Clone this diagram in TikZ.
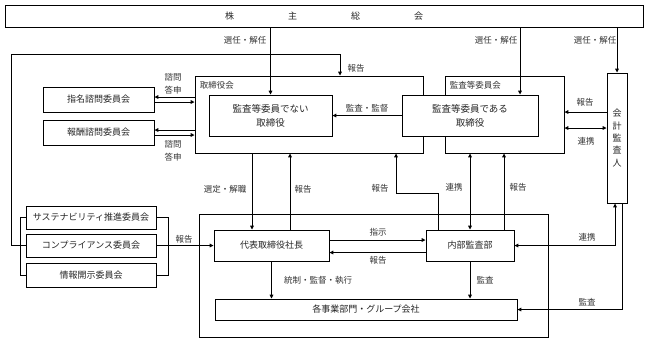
\documentclass[tikz,border=0pt]{standalone}
\usepackage{fontspec}
\setmainfont{Noto Sans CJK JP}
\usetikzlibrary{arrows.meta}
\tikzset{
  part/.style={draw=black, line width=0.8pt, fill=white, inner sep=0pt,
    align=center, font=\fontsize{9}{14}\selectfont, text=black!85},
  bigpart/.style={part, font=\fontsize{9.5}{14}\selectfont},
  frame/.style={draw=black, line width=0.8pt, inner sep=0pt},
  flabel/.style={font=\fontsize{8.5}{13}\selectfont, inner sep=1pt,
    align=center, text=black!80},
  wire/.style={line width=1pt, draw=black},
  flow/.style={wire, -{Triangle[length=4pt,width=3.6pt]}},
  twoflow/.style={wire, {Triangle[length=4pt,width=3.6pt]}-{Triangle[length=4pt,width=3.6pt]}},
}

\begin{document}
\begin{tikzpicture}[x=1pt,y=-1pt]
\useasboundingbox (0,0) rectangle (648,341);
% shareholders
\node[part, minimum width=638, minimum height=22] (agm) at (324,16)
  {株\hspace{54pt}主\hspace{54pt}総\hspace{54pt}会};
% board and audit committee
\node[frame, minimum width=228, minimum height=77] (board) at (309,114.5) {};
\node[flabel, anchor=north west] (boardttl) at ([xshift=4pt,yshift=-5pt]board.north west) {取締役会};
\node[frame, minimum width=119, minimum height=77] (acb) at (504.5,114.5) {};
\node[flabel, anchor=north west] (acbttl) at ([xshift=4pt,yshift=-5pt]acb.north west) {監査等委員会};
\node[bigpart, minimum width=123, minimum height=41] (nonaud) at (270.5,115.5) {監査等委員でない\\取締役};
\node[bigpart, minimum width=136, minimum height=41] (aud) at (470,115.5) {監査等委員である\\取締役};
\node[part, minimum width=20, minimum height=130, font=\fontsize{9}{12.3}\selectfont] (acct) at (617,138)
  {会\\計\\監\\査\\人};
% advisory committees
\node[part, minimum width=111, minimum height=25] (nom) at (98.5,99.5) {指名諮問委員会};
\node[part, minimum width=111, minimum height=25] (rem) at (98.5,132.5) {報酬諮問委員会};
% execution side
\node[frame, minimum width=349, minimum height=123] (ops) at (373.5,275.5) {};
\node[part, minimum width=115, minimum height=31] (ceo) at (271.5,245.5) {代表取締役社長};
\node[part, minimum width=88, minimum height=31] (ia) at (470,245.5) {内部監査部};
\node[part, minimum width=302, minimum height=21] (div) at (366,309.5) {各事業部門・グループ会社};
\node[part, minimum width=130, minimum height=23] (sus) at (91,217.5) {サステナビリティ推進委員会};
\node[part, minimum width=130, minimum height=23] (comp) at (91,245.5) {コンプライアンス委員会};
\node[part, minimum width=130, minimum height=24] (disc) at (91,275) {情報開示委員会};
% points on the edges
\coordinate (audin) at ([xshift=50pt]aud.north);
\coordinate (brdin) at ([xshift=31pt]board.north);
\coordinate (brdtop) at ([yshift=21pt]brdin);
\coordinate (nomq) at ([yshift=2.5pt]nom.east);
\coordinate (noma) at ([yshift=-2.5pt]nom.east);
\coordinate (remq) at ([yshift=2.5pt]rem.east);
\coordinate (rema) at ([yshift=-2.5pt]rem.east);
\coordinate (acrep) at ([yshift=26pt]acct.west);
\coordinate (aclink) at ([yshift=10pt]acct.west);
\coordinate (selx) at ([xshift=-19.5pt]ceo.north);
\coordinate (ceorep) at ([xshift=18.5pt]ceo.north);
\coordinate (iarep) at ([xshift=-32pt]ia.north);
\coordinate (brdbot) at ([xshift=87pt]board.south);
\coordinate (iarep2) at ([xshift=34pt]ia.north);
\coordinate (ceoout) at ([yshift=5.5pt]ceo.east);
\coordinate (ceoin) at ([yshift=-7pt]ceo.east);
\coordinate (acbot1) at ([xshift=-2pt]acct.south);
\coordinate (acbot2) at ([xshift=5pt]acct.south);
% appointment
\draw[flow] (agm.south -| nonaud.north) -- (nonaud.north);
\node[flabel] (sel1) at (245,40) {選任・解任};
\draw[flow] (audin |- agm.south) -- (audin);
\node[flabel] (sel2) at (496,40) {選任・解任};
\draw[flow] (agm.south -| acct.north) -- (acct.north);
\node[flabel] (sel3) at (595,40) {選任・解任};
% committees to the board
\draw[wire] (sus.west) -- ++(-5,0) |- (disc.west);
\draw[wire] (sus.east) -- ++(12,0) |- (disc.east);
\draw[flow] (comp.west) -- ++(-14,0) |- (brdtop) -- (brdin);
\node[flabel] (rep1) at (356,68) {報告};
\draw[flow] (comp.east) -- (comp.east -| ceo.west);
\node[flabel] (rep2) at (184,239) {報告};
% advisory
\draw[flow] (nomq -| board.west) -- (nomq);
\draw[flow] (noma) -- (noma -| board.west);
\node[flabel] (ask1) at (173,83.5) {諮問\\答申};
\draw[flow] (remq -| board.west) -- (remq);
\draw[flow] (rema) -- (rema -| board.west);
\node[flabel] (ask2) at (173,151) {諮問\\答申};
% audit committee
\draw[flow] (aud.west) -- (aud.west -| nonaud.east);
\node[flabel] (sup) at (367,108) {監査・監督};
\draw[flow] (acrep) -- (acrep -| acb.east);
\node[flabel] (rep3) at (585,102) {報告};
\draw[twoflow] (aclink) -- (aclink -| acb.east);
\node[flabel] (link1) at (586,141) {連携};
% board and president
\draw[flow] (selx |- board.south) -- (selx);
\node[flabel] (dis) at (225,189) {選定・解職};
\draw[flow] (ceorep) -- (ceorep |- board.south);
\node[flabel] (rep4) at (303,189) {報告};
% internal audit reports
\draw[flow] (iarep) -- ++(0,-36) -| (brdbot);
\node[flabel] (rep5) at (380,188) {報告};
\draw[twoflow] (ia.north) -- (ia.north |- acb.south);
\node[flabel] (link2) at (454,187) {連携};
\draw[flow] (iarep2) -- (iarep2 |- acb.south);
\node[flabel] (rep6) at (518,187) {報告};
% president and internal audit
\draw[flow] (ceoout) -- (ceoout -| ia.west);
\node[flabel] (ord) at (378,232) {指示};
\draw[flow] (ceoin -| ia.west) -- (ceoin);
\node[flabel] (rep7) at (378,260) {報告};
\draw[flow] (ceo.south) -- (ceo.south |- div.north);
\node[flabel] (ctl) at (318,280) {統制・監督・執行};
\draw[flow] (ia.south) -- (ia.south |- div.north);
\node[flabel] (aud1) at (485,280) {監査};
% accounting auditor
\draw[twoflow] (acbot1) |- (ia.east);
\node[flabel] (link3) at (587,237) {連携};
\draw[flow] (acbot2) |- (div.east);
\node[flabel] (aud2) at (587,302) {監査};
\end{tikzpicture}
\end{document}
